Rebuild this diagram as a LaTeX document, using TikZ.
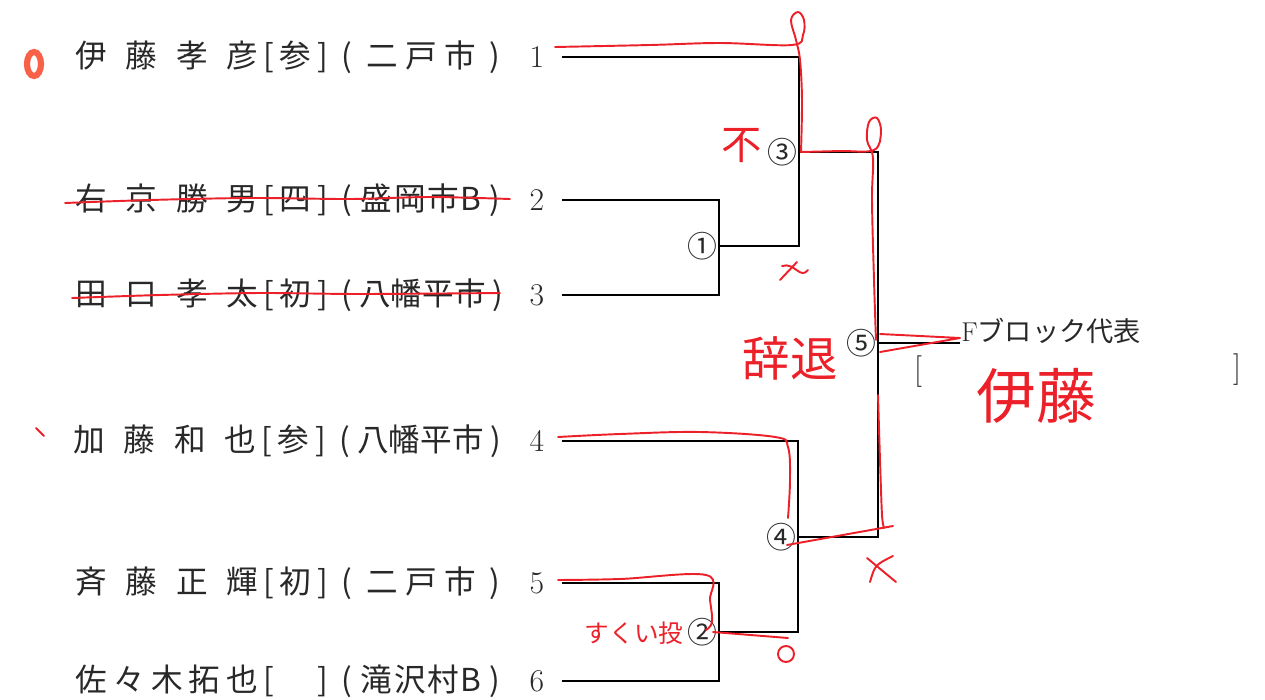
\documentclass[tikz,border=0pt]{standalone}
\usepackage{fontspec}
\newfontfamily\jp{Noto Sans CJK JP}
\usetikzlibrary{positioning}
\definecolor{inkgray}{RGB}{40,40,40}
\definecolor{penred}{RGB}{236,32,40}
\definecolor{markorange}{RGB}{248,96,72}
\newlength{\px}
\setlength{\px}{0.02cm}
% one entrant: name, grade, club
\newcommand{\entry}[3]{\makebox[183\px][s]{#1}\makebox[22\px]{[}\makebox[30\px]{#2}\makebox[25\px]{]}\makebox[172\px][s]{\makebox[24\px]{(}\hfill #3\hfill\makebox[24\px]{)}}}

\begin{document}
\begin{tikzpicture}[x=0.02cm, y=-0.02cm]
    % Define styles
    \tikzset{
        entrant/.style={anchor=west, inner sep=0pt, text=inkgray, font=\jp\fontsize{18}{18}\selectfont},
        seed/.style={inner sep=0pt, text=inkgray, font=\rmfamily\fontsize{18}{18}\selectfont},
        bout/.style={inner sep=0pt, text=inkgray, font=\jp\fontsize{17}{17}\selectfont},
        bracketline/.style={draw=black, line width=1.2pt},
        redpen/.style={draw=penred, line width=1.1pt, line cap=round, line join=round},
        redtext/.style={inner sep=0pt, text=penred, font=\jp\fontsize{#1}{#1}\selectfont}
    }
    \useasboundingbox (0,0) rectangle (1265,700);

    % Entrants
    \node[entrant] (p1) at (75,57)  {\entry{伊\hfill 藤\hfill 孝\hfill 彦}{参}{二\hfill 戸\hfill 市}};
    \node[entrant] (p2) at (75,200) {\entry{右\hfill 京\hfill 勝\hfill 男}{四}{盛\hfill 岡\hfill 市\hfill B}};
    \node[entrant] (p3) at (75,295) {\entry{田\hfill 口\hfill 孝\hfill 太}{初}{八\hfill 幡\hfill 平\hfill 市}};
    \node[entrant] (p4) at (73,441) {\entry{加\hfill 藤\hfill 和\hfill 也}{参}{八\hfill 幡\hfill 平\hfill 市}};
    \node[entrant] (p5) at (75,583) {\entry{斉\hfill 藤\hfill 正\hfill 輝}{初}{二\hfill 戸\hfill 市}};
    \node[entrant] (p6) at (75,681) {\entry{佐\hfill 々\hfill 木\hfill 拓\hfill 也}{}{滝\hfill 沢\hfill 村\hfill B}};

    % Seed numbers
    \node[seed] (n1) at (537,57)  {1};
    \node[seed] (n2) at (537,200) {2};
    \node[seed] (n3) at (537,295) {3};
    \node[seed] (n4) at (537,441) {4};
    \node[seed] (n5) at (537,583) {5};
    \node[seed] (n6) at (537,681) {6};

    % Bracket points
    \coordinate (s1) at (562,57);
    \coordinate (s2) at (562,200);
    \coordinate (s3) at (562,295);
    \coordinate (s4) at (562,441);
    \coordinate (s5) at (562,583);
    \coordinate (s6) at (562,681);
    \coordinate (m1) at (719,246);
    \coordinate (m2) at (719,632);
    \coordinate (m3) at (799,152);
    \coordinate (m4) at (798,537);
    \coordinate (m5) at (878,343);
    \coordinate (win) at (960,343);

    % Bracket
    \draw[bracketline] (s2) -| (m1) |- (s3);
    \draw[bracketline] (s5) -| (m2) |- (s6);
    \draw[bracketline] (s1) -| (m3) |- (m1);
    \draw[bracketline] (s4) -| (m4) |- (m2);
    \draw[bracketline] (m3) -| (m5) |- (m4);
    \draw[bracketline] (m5) -- (win);

    % Bout numbers
    \node[bout, left=1pt of m1] (b1) {①};
    \node[bout, left=1pt of m2] (b2) {②};
    \node[bout, left=1pt of m3] (b3) {③};
    \node[bout, left=1pt of m4] (b4) {④};
    \node[bout, left=1pt of m5] (b5) {⑤};

    % Winner field
    \node[entrant, font=\jp\fontsize{15.5}{15.5}\selectfont] (rep) at (961,331) {{\rmfamily F}ブロック代表};
    \node[seed] (lbr) at (918,372) {[};
    \node[seed] (rbr) at (1237,370) {]};

    % Red pen marks
    \draw[redpen] plot[smooth, tension=0.6] coordinates {(555,47) (650,45) (720,43) (792,45) (803,35) (804,20) (798,12) (791,20) (796,40) (800,60) (802,100) (801,152)};
    \draw[redpen] plot[smooth, tension=0.6] coordinates {(801,152) (840,151) (874,150) (881,132) (877,118) (869,122) (867,140) (873,158) (872,200) (874,280) (876,340)};
    \draw[redpen] (880,334) -- (960,338) -- (880,352);
    \draw[redpen] plot[smooth] coordinates {(878,395) (880,460) (882,515) (884,528)};
    \draw[redpen] (893,526) -- (787,545);
    \draw[redpen] plot[smooth, tension=0.6] coordinates {(558,437) (620,434) (700,432) (775,437) (788,447) (790,480) (788,518)};
    \draw[redpen] plot[smooth, tension=0.6] coordinates {(558,580) (620,579) (706,575) (710,600) (712,622) (706,630)};
    \draw[redpen] (713,632) -- (788,638);
    \draw[redpen] plot[smooth] coordinates {(65,203) (150,200) (250,198) (350,199) (430,197) (510,199)};
    \draw[redpen] plot[smooth] coordinates {(72,298) (160,295) (260,293) (360,294) (500,293)};
    \draw[draw=markorange, line width=3.5pt] (34,64) ellipse (7 and 12);
    \draw[redpen] (36,428) -- (44,436);
    \draw[redpen] (786,654) ellipse (8 and 8);
    \draw[redpen] (867,558) -- (896,582);
    \draw[redpen] (893,556) .. controls (875,565) .. (870,582);
    \draw[redpen] (780,280) -- (797,262);
    \draw[redpen] (782,266) .. controls (795,262) and (800,280) .. (808,270);

    % Red handwriting
    \node[redtext=23] (h1) at (742,146) {不};
    \node[redtext=27] (h2) at (790,358) {辞退};
    \node[redtext=14] (h3) at (634,633) {すくい投};
    \node[redtext=34] (h4) at (1036,396) {伊藤};
\end{tikzpicture}
\end{document}
